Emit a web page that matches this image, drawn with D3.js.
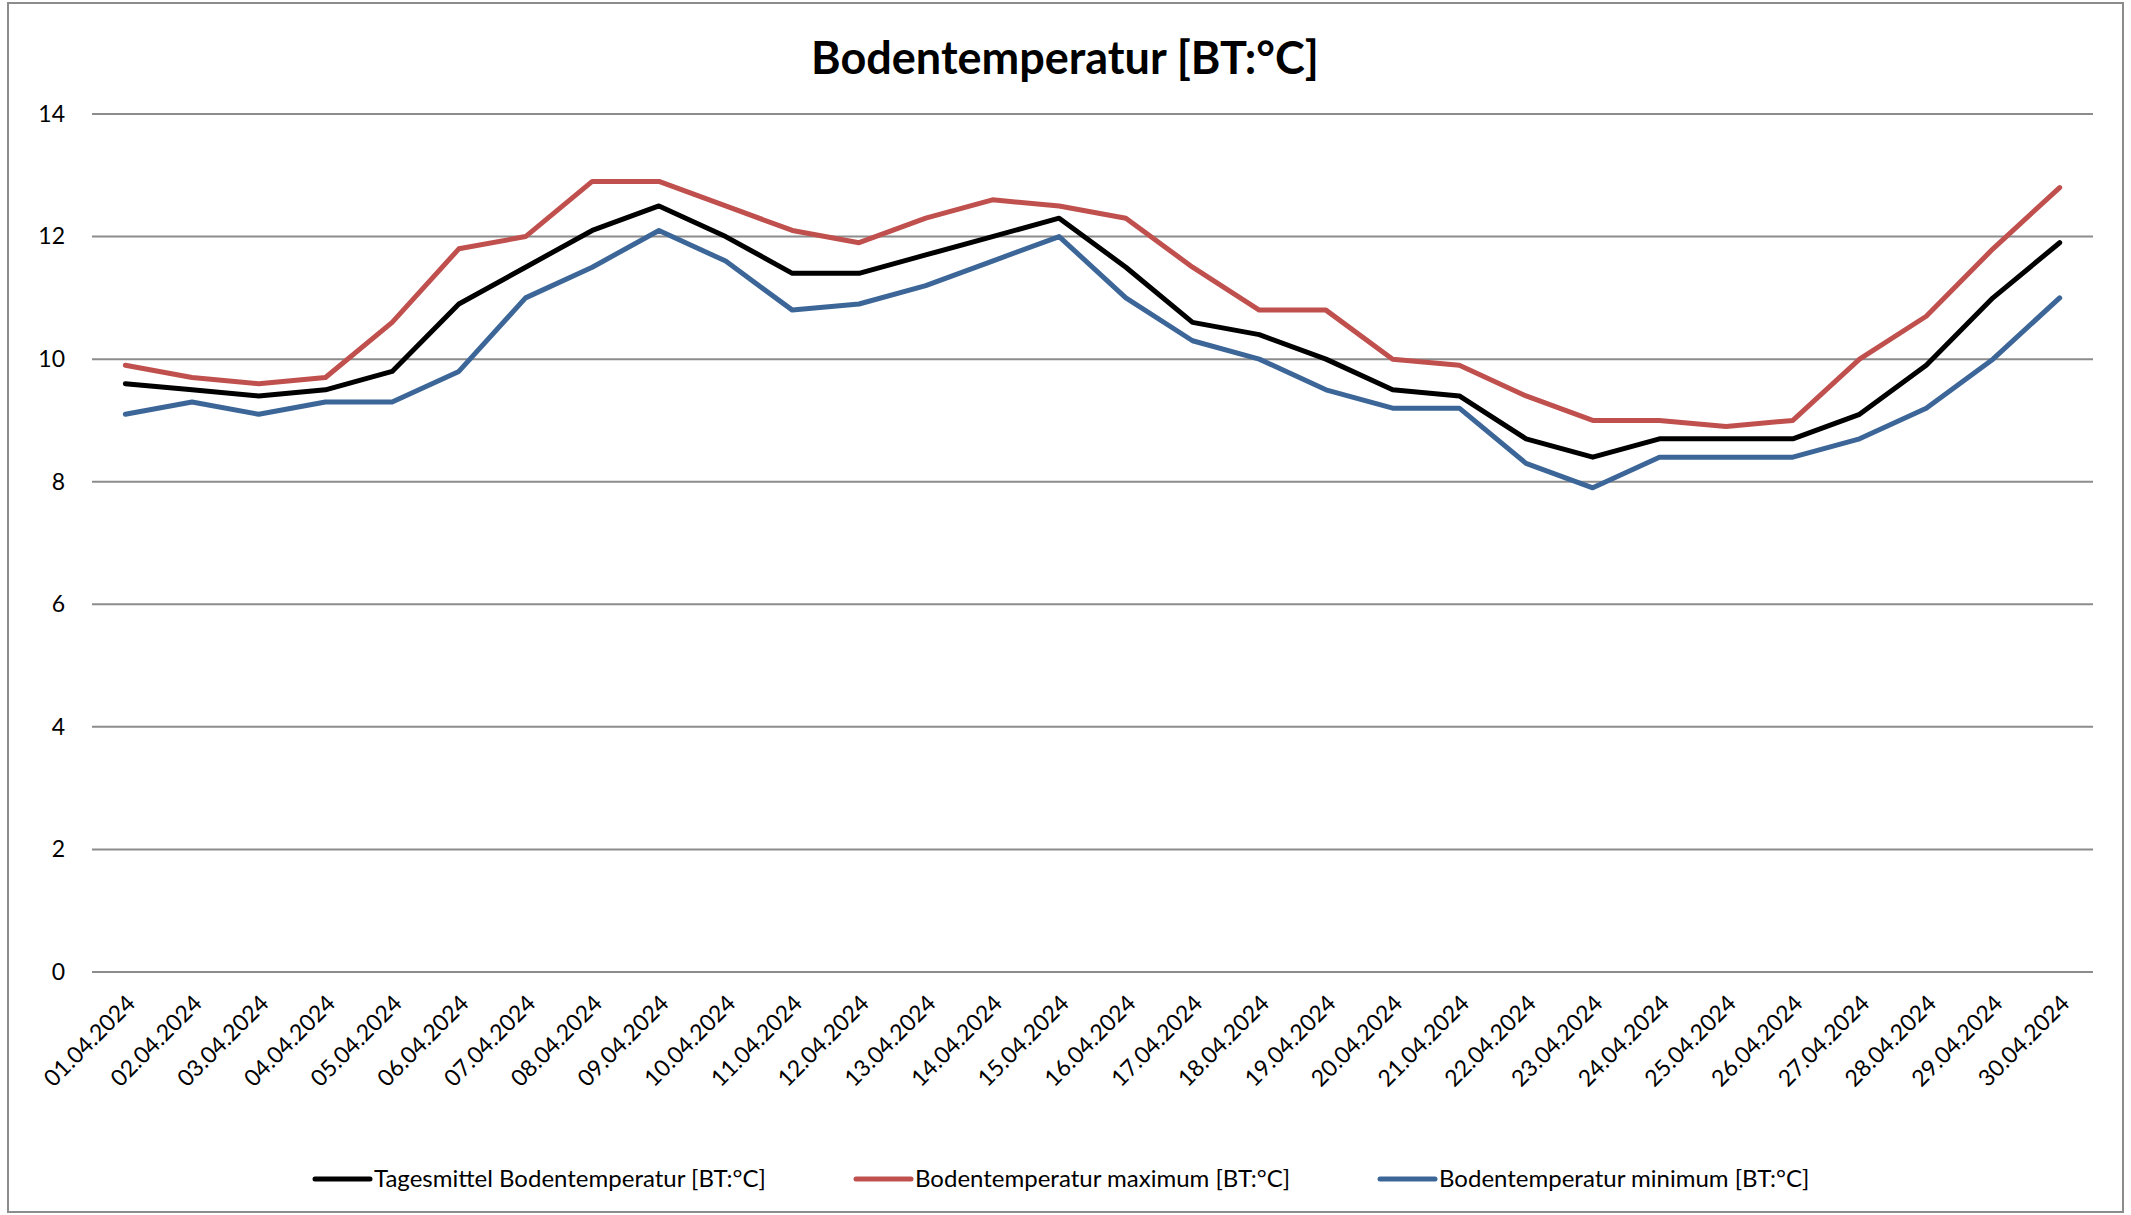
<!DOCTYPE html>
<html>
<head>
<meta charset="utf-8">
<script src="https://cdn.jsdelivr.net/npm/d3@7"></script>
<style>
  body { margin: 0; background: #fff; }
  text { font-family: Lato, "Open Sans", sans-serif; fill: #000; }
</style>
</head>
<body>
<div id="chart"></div>
<script>
// dates on the x axis
var dates = ["01.04.2024","02.04.2024","03.04.2024","04.04.2024","05.04.2024","06.04.2024",
  "07.04.2024","08.04.2024","09.04.2024","10.04.2024","11.04.2024","12.04.2024","13.04.2024",
  "14.04.2024","15.04.2024","16.04.2024","17.04.2024","18.04.2024","19.04.2024","20.04.2024",
  "21.04.2024","22.04.2024","23.04.2024","24.04.2024","25.04.2024","26.04.2024","27.04.2024",
  "28.04.2024","29.04.2024","30.04.2024"];

// daily mean, max and min soil temperature
var tagesmittel = [9.6,9.5,9.4,9.5,9.8,10.9,11.5,12.1,12.5,12.0,11.4,11.4,11.7,12.0,12.3,
  11.5,10.6,10.4,10.0,9.5,9.4,8.7,8.4,8.7,8.7,8.7,9.1,9.9,11.0,11.9];
var maximum = [9.9,9.7,9.6,9.7,10.6,11.8,12.0,12.9,12.9,12.5,12.1,11.9,12.3,12.6,12.5,
  12.3,11.5,10.8,10.8,10.0,9.9,9.4,9.0,9.0,8.9,9.0,10.0,10.7,11.8,12.8];
var minimum = [9.1,9.3,9.1,9.3,9.3,9.8,11.0,11.5,12.1,11.6,10.8,10.9,11.2,11.6,12.0,
  11.0,10.3,10.0,9.5,9.2,9.2,8.3,7.9,8.4,8.4,8.4,8.7,9.2,10.0,11.0];

var yTicks = [0,2,4,6,8,10,12,14];
var seriesNames = ["Tagesmittel Bodentemperatur [BT:°C]",
  "Bodentemperatur maximum [BT:°C]",
  "Bodentemperatur minimum [BT:°C]"];
var seriesColors = ["#000000", "#C0504D", "#3C6698"];

var series = [tagesmittel, maximum, minimum].map(function (v, i) {
  return { name: seriesNames[i], color: seriesColors[i], values: v };
});

var W = 2131, H = 1215;
var margin = {top: 114, right: 38, bottom: 243, left: 92};
var width = W - margin.left - margin.right,
    height = H - margin.top - margin.bottom;

var root = d3.select("#chart").append("svg")
    .attr("width", W)
    .attr("height", H);

// outer chart border
root.append("rect")
    .attr("x", 8).attr("y", 3)
    .attr("width", 2115).attr("height", 1209)
    .attr("fill", "none")
    .attr("stroke", "#8c8c8c")
    .attr("stroke-width", 2);

// title
root.append("text")
    .attr("x", 1065)
    .attr("y", 74)
    .attr("text-anchor", "middle")
    .style("font-weight", "bold")
    .style("font-size", "45px")
    .text("Bodentemperatur [BT:°C]");

var svg = root.append("g")
    .attr("transform", "translate(" + margin.left + "," + margin.top + ")");

var x = d3.scalePoint()
    .domain(dates)
    .range([0, width])
    .padding(0.5);

var y = d3.scaleLinear()
    .domain([0, 14])
    .range([height, 0]);

// gridlines
svg.append("g")
    .selectAll("line")
    .data(yTicks)
    .enter()
    .append("line")
      .attr("x1", 0)
      .attr("x2", width)
      .attr("y1", function (d) { return y(d); })
      .attr("y2", function (d) { return y(d); })
      .attr("stroke", "#8c8c8c")
      .attr("stroke-width", 2);

// Y axis labels
var yAxis = svg.append("g")
    .call(d3.axisLeft(y).tickValues(yTicks).tickSize(0).tickPadding(27));
yAxis.select(".domain").remove();
yAxis.selectAll("text")
    .style("font-size", "23px")
    .style("font-family", "Lato, sans-serif");

// X axis labels, rotated
var xAxis = svg.append("g")
    .attr("transform", "translate(0," + height + ")")
    .call(d3.axisBottom(x).tickSize(0));
xAxis.select(".domain").remove();
xAxis.selectAll("text")
    .style("font-size", "23px")
    .style("font-family", "Lato, sans-serif")
    .attr("text-anchor", "end")
    .attr("dy", "0.35em")
    .attr("transform", "translate(3,25) rotate(-45)");

// lines
var line = d3.line()
    .x(function (d, i) { return x(dates[i]); })
    .y(function (d) { return y(d); });

svg.append("g")
    .selectAll("path")
    .data(series)
    .enter()
    .append("path")
      .attr("d", function (d) { return line(d.values); })
      .attr("fill", "none")
      .attr("stroke", function (d) { return d.color; })
      .attr("stroke-width", 5)
      .attr("stroke-linejoin", "round")
      .attr("stroke-linecap", "round");

// legend
var legendX = [315, 856, 1380];
var legend = root.append("g")
    .selectAll("g")
    .data(series)
    .enter()
    .append("g")
      .attr("transform", function (d, i) { return "translate(" + legendX[i] + ",1179)"; });

legend.append("line")
    .attr("x1", 0).attr("x2", 55)
    .attr("y1", 0).attr("y2", 0)
    .attr("stroke", function (d) { return d.color; })
    .attr("stroke-width", 5)
    .attr("stroke-linecap", "round");

legend.append("text")
    .attr("x", 59)
    .attr("dy", "0.35em")
    .style("font-size", "24px")
    .text(function (d) { return d.name; });
</script>
</body>
</html>
